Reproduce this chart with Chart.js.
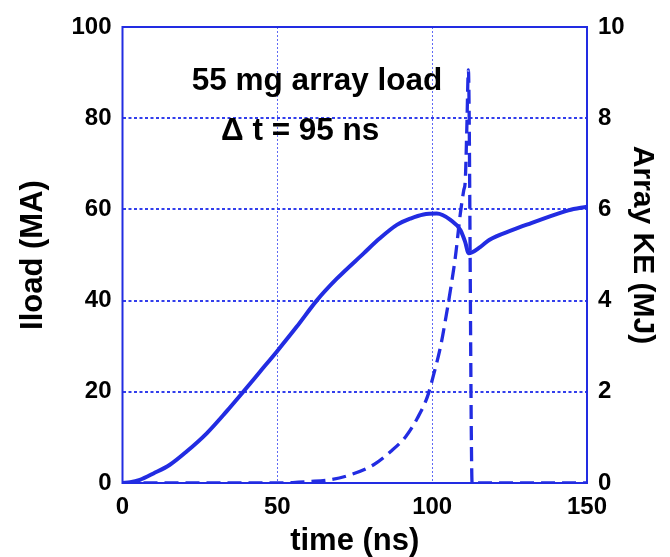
<!DOCTYPE html>
<html>
<head>
<meta charset="utf-8">
<script src="https://cdn.jsdelivr.net/npm/chart.js@4.4.0/dist/chart.umd.min.js"></script>
<style>
html,body{margin:0;padding:0;background:#fff;}
canvas{display:block;}
</style>
</head>
<body>
<canvas id="c" width="670" height="557"></canvas>
<script>
// ---- data ----
const currentTime = [0, 2.5, 5.6, 10, 15.3, 20.7, 27.2, 33.6, 39, 44.4, 49.8, 56.3, 62.7, 69.2, 77.8, 83, 88.6, 93, 97.2, 101.5, 105.9, 109.1, 110.6, 111.8, 115.6, 118.4, 126, 132, 137.8, 144, 150];
const currentMA   = [0, 0.15, 0.7, 2.1, 4.0, 6.9, 10.9, 15.7, 20, 24.4, 28.8, 34.3, 40, 44.8, 50.3, 53.6, 56.6, 58, 58.9, 59.1, 57.7, 55.5, 53, 50.4, 51.8, 53.3, 55.5, 57, 58.4, 59.8, 60.6];

const keTime = [0, 50, 55, 60, 67.1, 73.6, 81.1, 86.6, 91.5, 95.2, 98.5, 100.6, 102.7, 104.3, 105.9, 107.5, 109.1, 110.2, 110.7, 111.2, 111.7, 112.9, 150];
const keMJ   = [0, 0, 0.01, 0.03, 0.07, 0.18, 0.4, 0.69, 1.02, 1.42, 1.9, 2.41, 2.99, 3.58, 4.23, 4.96, 5.91, 6.42, 6.64, 7.8, 9.06, 0, 0];

const xTicks = [0, 50, 100, 150];
const yLeftTicks = [0, 20, 40, 60, 80, 100];
const yRightTicks = [0, 2, 4, 6, 8, 10];

const annotationLines = ["55 mg array load", "\u0394 t = 95 ns"];
const rightTitle = "Array KE (MJ)";

const BLUE = 'rgb(34,44,226)';
const GRID = 'rgb(50,62,236)';
const GRID_V = 'rgb(95,105,245)';
const FONT = '"Liberation Sans", Arial, Helvetica, sans-serif';

const framePlugin = {
  id: 'frame',
  afterDatasetsDraw(chart) {
    const {ctx, chartArea: a} = chart;
    ctx.save();
    ctx.strokeStyle = BLUE;
    ctx.lineWidth = 2;
    ctx.setLineDash([]);
    ctx.strokeRect(a.left, a.top, a.right - a.left, a.bottom - a.top);
    ctx.restore();
  },
  afterDraw(chart) {
    const {ctx} = chart;
    ctx.save();
    ctx.fillStyle = '#000';
    ctx.font = 'bold 31.5px ' + FONT;
    ctx.textBaseline = 'alphabetic';
    ctx.textAlign = 'center';
    ctx.fillText(annotationLines[0], 317, 90);
    ctx.textAlign = 'left';
    ctx.fillText(annotationLines[1], 221, 140);
    // right axis title (reads top to bottom)
    ctx.translate(642, 245);
    ctx.rotate(Math.PI / 2);
    ctx.font = 'bold 30px ' + FONT;
    ctx.textAlign = 'center';
    ctx.textBaseline = 'middle';
    ctx.fillText(rightTitle, 0, 0);
    ctx.restore();
  }
};

new Chart(document.getElementById('c'), {
  type: 'line',
  data: {
    datasets: [
      {
        label: 'Iload',
        data: currentTime.map((t, i) => ({x: t, y: currentMA[i]})),
        yAxisID: 'y',
        borderColor: BLUE,
        borderWidth: 4,
        pointRadius: 0,
        cubicInterpolationMode: 'monotone',
        fill: false
      },
      {
        label: 'Array KE',
        data: keTime.map((t, i) => ({x: t, y: keMJ[i]})),
        yAxisID: 'y2',
        borderColor: BLUE,
        borderWidth: 3.3,
        borderDash: [14, 7],
        pointRadius: 0,
        cubicInterpolationMode: 'monotone',
        fill: false
      }
    ]
  },
  plugins: [framePlugin],
  options: {
    responsive: false,
    animation: false,
    devicePixelRatio: 1,
    layout: {padding: {top: 27, left: 0, right: 0, bottom: 0}},
    plugins: {legend: {display: false}, tooltip: {enabled: false}},
    scales: {
      x: {
        type: 'linear', min: 0, max: 150,
        afterBuildTicks: s => { s.ticks = xTicks.map(v => ({value: v})); },
        afterFit: s => { s.height = 74; },
        grid: {color: GRID_V, lineWidth: 1, drawTicks: false},
        border: {display: false, dash: [2, 2]},
        ticks: {color: '#000', font: {family: FONT, size: 24, weight: 'bold'}, padding: 10, maxRotation: 0},
        title: {display: true, text: 'time (ns)', color: '#000', font: {family: FONT, size: 31, weight: 'bold', lineHeight: 1}, padding: {top: 0, bottom: 0}}
      },
      y: {
        type: 'linear', position: 'left', min: 0, max: 100,
        afterBuildTicks: s => { s.ticks = yLeftTicks.map(v => ({value: v})); },
        afterFit: s => { s.width = 122.5; },
        grid: {color: GRID, lineWidth: 2, drawTicks: false},
        border: {display: false, dash: [3, 2.5]},
        ticks: {color: '#000', font: {family: FONT, size: 24, weight: 'bold'}, padding: 11},
        title: {display: true, text: 'Iload (MA)', color: '#000', font: {family: FONT, size: 31, weight: 'bold', lineHeight: 1}, padding: {top: 18, bottom: 0}}
      },
      y2: {
        type: 'linear', position: 'right', min: 0, max: 10,
        afterBuildTicks: s => { s.ticks = yRightTicks.map(v => ({value: v})); },
        afterFit: s => { s.width = 83; },
        grid: {drawOnChartArea: false, drawTicks: false},
        border: {display: false},
        ticks: {color: '#000', font: {family: FONT, size: 24, weight: 'bold'}, padding: 11},
        title: {display: false}
      }
    }
  }
});
</script>
</body>
</html>
